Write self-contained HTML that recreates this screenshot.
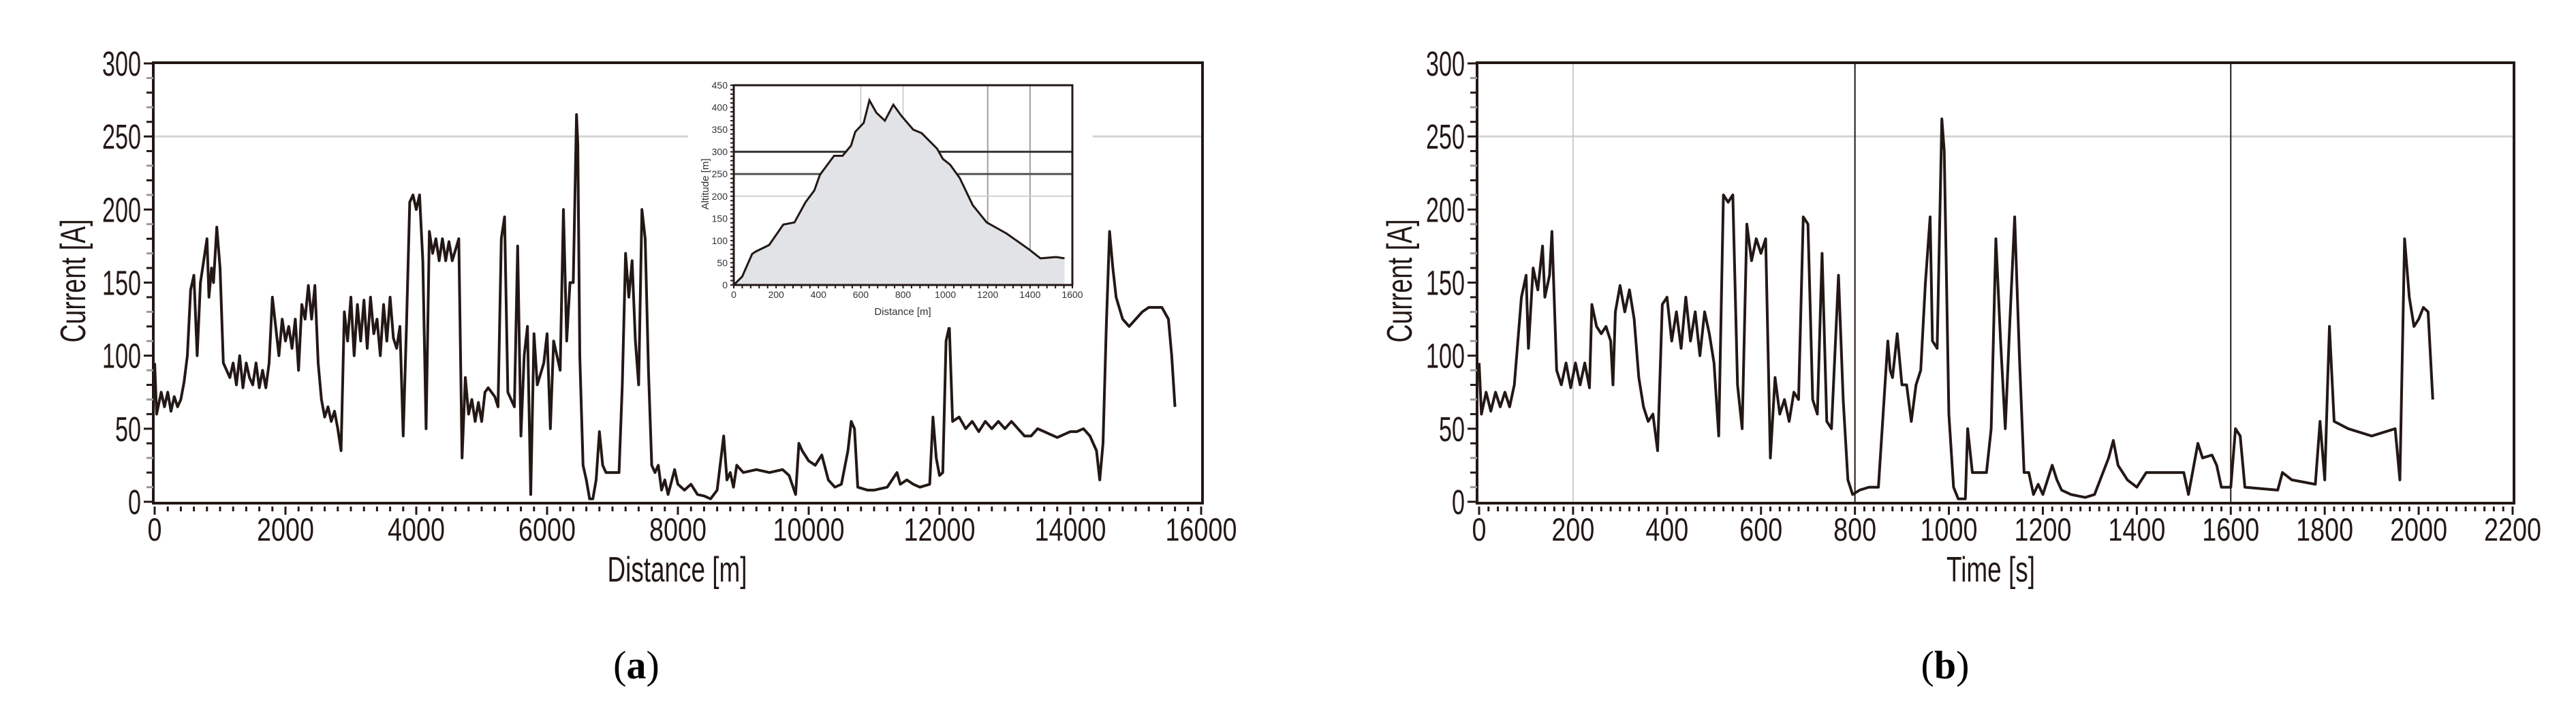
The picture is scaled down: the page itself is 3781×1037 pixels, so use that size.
<!DOCTYPE html>
<html><head><meta charset="utf-8"><style>
html,body{margin:0;padding:0;background:#fff;}
svg{display:block;font-family:"Liberation Sans",sans-serif;}
</style></head><body>
<svg id="fig" width="3781" height="1037" viewBox="0 0 3781 1037" xmlns="http://www.w3.org/2000/svg">
<rect x="0" y="0" width="3781" height="1037" fill="#fff"/>
<g id="chartA"></g>
<g id="chartB"></g>
</svg>
<script>
// ---- Chart (a) data: current vs distance ----
const distA = [0,30,100,150,200,250,300,350,400,450,500,550,600,650,700,750,800,830,870,900,950,1000,1050,1100,1150,1200,1250,1300,1350,1400,1450,1500,1550,1600,1650,1700,1750,1800,1850,1900,1950,2000,2050,2100,2150,2200,2250,2300,2350,2400,2450,2500,2550,2600,2650,2700,2750,2800,2850,2900,2950,3000,3050,3100,3150,3200,3250,3300,3350,3400,3450,3500,3550,3600,3650,3700,3750,3800,3850,3900,3950,4000,4050,4100,4150,4200,4250,4300,4350,4400,4450,4500,4550,4650,4700,4750,4800,4850,4900,4950,5000,5050,5100,5200,5250,5300,5350,5400,5450,5500,5550,5600,5650,5700,5750,5800,5850,5950,6000,6050,6100,6200,6250,6300,6350,6400,6450,6470,6500,6550,6600,6650,6700,6750,6800,6850,6900,7100,7150,7200,7250,7300,7350,7400,7450,7500,7550,7600,7650,7700,7750,7800,7850,7950,8000,8100,8200,8300,8400,8500,8600,8700,8750,8800,8850,8900,9000,9200,9400,9600,9700,9800,9850,9900,10000,10100,10200,10300,10400,10500,10600,10650,10700,10750,10900,11000,11200,11350,11400,11500,11600,11700,11850,11900,11950,12000,12050,12100,12150,12200,12300,12400,12500,12600,12700,12800,12900,13000,13100,13200,13300,13400,13500,13600,13800,14000,14100,14200,14300,14400,14450,14500,14550,14600,14650,14700,14800,14900,15000,15100,15200,15400,15500,15550,15600];
const currentA = [95,60,75,65,75,62,72,65,70,82,100,145,155,100,150,165,180,140,160,150,188,160,95,90,85,95,80,100,78,95,85,80,95,78,90,78,95,140,120,100,125,110,120,105,125,90,135,125,148,125,148,95,70,58,65,55,62,50,35,130,110,140,100,135,110,138,105,140,115,125,100,135,110,140,112,105,120,45,120,205,210,200,210,165,50,185,170,180,165,180,165,178,165,180,30,85,60,70,55,68,55,75,78,72,65,180,195,75,70,65,175,45,100,120,5,115,80,95,115,50,110,90,200,110,150,150,265,245,100,25,15,2,2,15,48,25,20,20,80,170,140,165,110,80,200,180,90,25,20,25,8,15,5,22,12,8,12,5,4,2,8,45,15,20,10,25,20,22,20,22,18,5,40,35,28,25,32,15,10,12,35,55,50,10,8,8,10,20,12,15,12,10,12,58,30,18,20,110,120,55,58,50,55,48,55,50,55,50,55,50,45,45,50,48,44,48,48,50,45,35,15,40,120,185,160,140,125,120,125,130,133,133,125,100,65];
const xTicksA = [0,2000,4000,6000,8000,10000,12000,14000,16000];
const yTicks = [0,50,100,150,200,250,300];

// ---- Inset data: altitude profile ----
const distInset = [0,40,87,107,167,234,287,340,381,407,474,514,554,574,614,641,674,714,754,794,848,888,961,988,1022,1068,1129,1195,1289,1396,1449,1523,1563];
const altInset = [0,19,70,76,90,136,141,187,213,248,291,291,314,345,365,416,388,370,406,380,350,342,307,284,271,241,180,141,116,80,60,63,60];
const xTicksInset = [0,200,400,600,800,1000,1200,1400,1600];
const yTicksInset = [0,50,100,150,200,250,300,350,400,450];

// ---- Chart (b) data: current vs time ----
const timeB = [0,5,15,25,35,45,55,65,75,90,100,105,115,125,135,140,150,155,165,175,185,195,205,215,225,235,240,250,260,270,280,285,290,300,310,320,330,340,350,360,370,380,390,400,410,420,430,440,450,460,470,480,490,500,510,520,530,540,550,560,570,580,590,600,610,620,630,640,650,660,670,680,690,700,710,720,730,740,750,760,765,775,785,795,810,830,850,860,870,875,880,890,900,910,920,930,940,950,960,965,975,985,990,1000,1010,1020,1035,1040,1050,1080,1090,1100,1110,1120,1130,1140,1150,1160,1170,1180,1190,1200,1210,1220,1230,1240,1260,1290,1310,1340,1350,1360,1380,1400,1420,1450,1500,1510,1530,1540,1560,1570,1580,1600,1610,1620,1630,1700,1710,1730,1780,1790,1800,1810,1820,1850,1900,1950,1960,1970,1980,1990,2000,2010,2020,2030];
const currentB = [95,60,75,62,75,65,75,65,80,140,155,105,160,145,175,140,155,185,90,80,95,78,95,80,95,78,135,120,115,120,110,80,130,148,130,145,125,85,65,55,60,35,135,140,110,130,105,140,110,130,100,130,115,95,45,210,205,210,80,50,190,165,180,170,180,30,85,60,70,55,75,70,195,190,70,60,170,55,50,120,155,70,15,5,8,10,10,60,110,90,85,115,80,80,55,80,90,150,195,110,105,262,240,60,10,2,2,50,20,20,50,180,110,50,125,195,100,20,20,5,12,5,15,25,15,8,5,3,5,30,42,25,15,10,20,20,20,5,40,30,32,25,10,10,50,45,10,8,20,15,12,55,15,120,55,50,45,50,15,180,140,120,125,133,130,70];
const xTicksB = [0,200,400,600,800,1000,1200,1400,1600,1800,2000,2200];

const NS = "http://www.w3.org/2000/svg";
const INK = "#231815";
function mk(parent, tag, attrs, text){
  const e = document.createElementNS(NS, tag);
  for (const k in attrs) e.setAttribute(k, attrs[k]);
  if (text !== undefined) e.textContent = text;
  parent.appendChild(e);
  return e;
}
function lin(d0,d1,p0,p1){ return v => p0 + (v-d0)*(p1-p0)/(d1-d0); }

function drawMain(g, cfg){
  const X = lin(cfg.xMin, cfg.xMax, cfg.px0, cfg.px1);
  const Y = lin(0, 300, 736, 93);
  // gridline 250
  const gl = mk(g,'line',{x1:cfg.box0,x2:cfg.box1,y1:Y(250),y2:Y(250),stroke:'#d4d4d4','stroke-width':3});
  
  
  // vertical lines
  cfg.vlines.forEach(v=>{
    const l = mk(g,'line',{x1:X(v.x),x2:X(v.x),y1:92,y2:738,stroke:v.c,'stroke-width':v.w});
    
    
  });
  // frame
  const fr = mk(g,'rect',{x:cfg.box0,y:92,width:cfg.box1-cfg.box0,height:646,fill:'none',stroke:INK,'stroke-width':4});
  
  
  // y ticks every 10
  for (let v=0; v<=300; v+=10){
    const major = v%50===0;
    const t = mk(g,'line',{x1:cfg.box0-(major?14:10),x2:cfg.box0,y1:Y(v),y2:Y(v),stroke:(v%20===0||major)?INK:'#999','stroke-width':3});
    
    
  }
  yTicks.forEach(v=>{
    const s = String(v);
    const t = mk(g,'text',{x:cfg.box0-18,y:Y(v)+18,'font-size':51,'text-anchor':'end',fill:INK,textLength:19*s.length,lengthAdjust:'spacingAndGlyphs'},s);
    
    
  });
  // x ticks
  const stepMinor = (cfg.xTicks[1]-cfg.xTicks[0])/10;
  for (let v=cfg.xMin; v<=cfg.xMax+1e-6; v+=stepMinor){
    const major = Math.abs(v/(stepMinor*10)-Math.round(v/(stepMinor*10)))<1e-6;
    const t = mk(g,'line',{x1:X(v),x2:X(v),y1:743,y2:major?755:750,stroke:INK,'stroke-width':3});
    
    
  }
  cfg.xTicks.forEach(v=>{
    const s = String(v);
    const t = mk(g,'text',{x:X(v),y:793,'font-size':47,'text-anchor':'middle',fill:INK,textLength:21*s.length,lengthAdjust:'spacingAndGlyphs'},s);
    
    
  });
  // series
  let d = '';
  cfg.xs.forEach((x,i)=>{ d += (i?'L':'M') + X(x).toFixed(1) + ' ' + Y(cfg.ys[i]).toFixed(1); });
  const p = mk(g,'path',{d:d,fill:'none',stroke:INK,'stroke-width':4,'stroke-linejoin':'round'});
  
  
  // titles
  const yt = mk(g,'text',{x:0,y:0,'font-size':52,'text-anchor':'middle',fill:INK,transform:`translate(${cfg.yTitleX},412) rotate(-90)`,textLength:181,lengthAdjust:'spacingAndGlyphs'},'Current [A]');
  
  
  const xt = mk(g,'text',{x:cfg.xTitleX,y:853,'font-size':52,'text-anchor':'middle',fill:INK,textLength:cfg.xTitleLen,lengthAdjust:'spacingAndGlyphs'},cfg.xTitle);
  
  
  const cap = mk(g,'text',{x:cfg.capX,y:995,'font-size':58,'text-anchor':'middle',fill:'#000','font-family':'Liberation Serif, serif'});
  
  
  mk(cap,'tspan',{},'(');
  mk(cap,'tspan',{'font-weight':'bold'},cfg.cap);
  mk(cap,'tspan',{},')');
}

function drawInset(g){
  const X = lin(0,1600,1077,1574);
  const Y = lin(0,450,418,125);
  const bg = mk(g,'rect',{x:1010,y:100,width:594,height:380,fill:'#fff'});
  
  
  // area
  let d = 'M'+X(distInset[0])+' '+Y(0);
  distInset.forEach((x,i)=>{ d += 'L'+X(x).toFixed(1)+' '+Y(altInset[i]).toFixed(1); });
  d += 'L'+X(distInset[distInset.length-1]).toFixed(1)+' '+Y(0)+'Z';
  const area = mk(g,'path',{d:d,fill:'#e1e3e6',stroke:'none'});
  
  
  // grids
  [[600,'#d0d0d0'],[800,'#d0d0d0'],[1200,'#a0a0a0'],[1400,'#a0a0a0']].forEach(v=>{
    const l = mk(g,'line',{x1:X(v[0]),x2:X(v[0]),y1:125,y2:418,stroke:v[1],'stroke-width':2});
    
    
  });
  [[300,'#333',3],[250,'#555',3],[200,'#d0d0d0',2]].forEach(v=>{
    const l = mk(g,'line',{x1:1077,x2:1574,y1:Y(v[0]),y2:Y(v[0]),stroke:v[1],'stroke-width':v[2]});
    
    
  });
  // redraw area over gridlines partially? (grid lines hidden behind fill in reference for lower lines)
  const area2 = mk(g,'path',{d:d,fill:'#e1e3e6',stroke:'none'});
  
  
  let ld = '';
  distInset.forEach((x,i)=>{ ld += (i?'L':'M')+X(x).toFixed(1)+' '+Y(altInset[i]).toFixed(1); });
  const line = mk(g,'path',{d:ld,fill:'none',stroke:INK,'stroke-width':3});
  
  
  const fr = mk(g,'rect',{x:1077,y:125,width:497,height:293,fill:'none',stroke:INK,'stroke-width':3});
  
  
  for (let v=0; v<=450; v+=10){
    const t = mk(g,'line',{x1:1072,x2:1077,y1:Y(v),y2:Y(v),stroke:INK,'stroke-width':2});
    
    
  }
  for (let v=0; v<=1600; v+=40){
    const t = mk(g,'line',{x1:X(v),x2:X(v),y1:418,y2:423,stroke:INK,'stroke-width':2});
    
    
  }
  yTicksInset.forEach(v=>{
    const t = mk(g,'text',{x:1068,y:Y(v)+5,'font-size':14,'text-anchor':'end',fill:'#333'},String(v));
    
    
  });
  xTicksInset.forEach(v=>{
    const t = mk(g,'text',{x:X(v),y:437,'font-size':14,'text-anchor':'middle',fill:'#333'},String(v));
    
    
  });
  const xt = mk(g,'text',{x:1325,y:462,'font-size':15,'text-anchor':'middle',fill:'#333'},'Distance [m]');
  
  
  const yt = mk(g,'text',{x:0,y:0,'font-size':15,'text-anchor':'middle',fill:'#333',transform:'translate(1040,270) rotate(-90)'},'Altitude [m]');
  
  
}

drawMain(document.getElementById('chartA'),{
  xMin:0,xMax:16000,px0:227,px1:1763,box0:225,box1:1765,xTicks:xTicksA,
  xs:distA,ys:currentA,vlines:[],yTitleX:125,xTitle:'Distance [m]',xTitleX:994,xTitleLen:205,capX:934,cap:'a'
});
drawInset(document.getElementById('chartA'));
drawMain(document.getElementById('chartB'),{
  xMin:0,xMax:2200,px0:2171,px1:3688,box0:2168,box1:3690,xTicks:xTicksB,
  xs:timeB,ys:currentB,
  vlines:[{x:200,c:'#cccccc',w:2},{x:800,c:INK,w:2},{x:1600,c:INK,w:2}],
  yTitleX:2072,xTitle:'Time [s]',xTitleX:2922,xTitleLen:130,capX:2855,cap:'b'
});
</script>
</body></html>
